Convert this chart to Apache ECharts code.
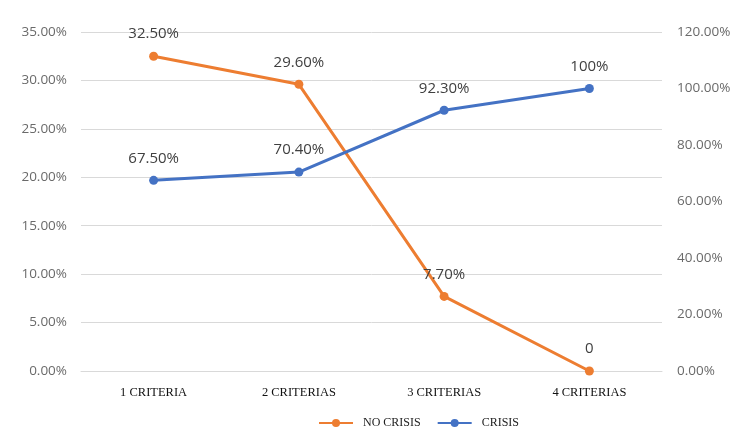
<!DOCTYPE html>
<html>
<head>
<meta charset="utf-8">
<script src="https://cdn.jsdelivr.net/npm/echarts@6/dist/echarts.min.js"></script>
<style>
  html, body { margin: 0; padding: 0; background: #fff; }
  #chart { width: 750px; height: 444px; }
</style>
</head>
<body>
<div id="chart"></div>
<script>
// data
var categories = ['1 CRITERIA', '2 CRITERIAS', '3 CRITERIAS', '4 CRITERIAS'];
var noCrisis = [32.5, 29.6, 7.7, 0];
var crisis = [67.5, 70.4, 92.3, 100];
var noCrisisLabels = ['32.50%', '29.60%', '7.70%', '0'];
var crisisLabels = ['67.50%', '70.40%', '92.30%', '100%'];

var chart = echarts.init(document.getElementById('chart'), null, { renderer: 'canvas' });

var axisLabelStyle = {
  color: '#6a6a6a',
  fontFamily: 'Open Sans',
  fontSize: 13.5
};

var option = {
  animation: false,
  grid: { left: 81, right: 88, top: 32, bottom: 73 },
  legend: {
    top: 412,
    left: 313,
    itemWidth: 34,
    itemHeight: 10,
    itemGap: 16,
    textStyle: { fontFamily: 'Liberation Serif', fontSize: 12, color: '#222', padding: [0, 0, 0, 5] },
    data: ['NO CRISIS', 'CRISIS']
  },
  xAxis: {
    type: 'category',
    data: categories,
    axisLine: { show: true, lineStyle: { color: '#d9d9d9', width: 1 } },
    axisTick: { show: false },
    axisLabel: { fontFamily: 'Liberation Serif', fontSize: 12.5, color: '#111', margin: 15 }
  },
  yAxis: [
    {
      type: 'value', min: 0, max: 35, interval: 5,
      axisLine: { show: false }, axisTick: { show: false },
      splitLine: { lineStyle: { color: '#d9d9d9', width: 1 } },
      axisLabel: Object.assign({ formatter: function (v) { return v.toFixed(2) + '%'; }, margin: 14 }, axisLabelStyle)
    },
    {
      type: 'value', min: 0, max: 120, interval: 20,
      axisLine: { show: false }, axisTick: { show: false },
      splitLine: { show: false },
      axisLabel: Object.assign({ formatter: function (v) { return v.toFixed(2) + '%'; }, margin: 15 }, axisLabelStyle)
    }
  ],
  series: [
    {
      name: 'NO CRISIS',
      type: 'line',
      yAxisIndex: 0,
      data: noCrisis,
      symbol: 'circle',
      symbolSize: 9,
      lineStyle: { color: '#ED7D31', width: 3 },
      itemStyle: { color: '#ED7D31' },
      label: {
        show: true, position: 'top', distance: 10,
        fontFamily: 'Open Sans', fontSize: 15, color: '#404040',
        formatter: function (p) { return noCrisisLabels[p.dataIndex]; }
      }
    },
    {
      name: 'CRISIS',
      type: 'line',
      yAxisIndex: 1,
      data: crisis,
      symbol: 'circle',
      symbolSize: 9,
      lineStyle: { color: '#4472C4', width: 3 },
      itemStyle: { color: '#4472C4' },
      label: {
        show: true, position: 'top', distance: 10,
        fontFamily: 'Open Sans', fontSize: 15, color: '#404040',
        formatter: function (p) { return crisisLabels[p.dataIndex]; }
      }
    }
  ]
};

chart.setOption(option);
window.addEventListener('resize', chart.resize);
</script>
</body>
</html>
